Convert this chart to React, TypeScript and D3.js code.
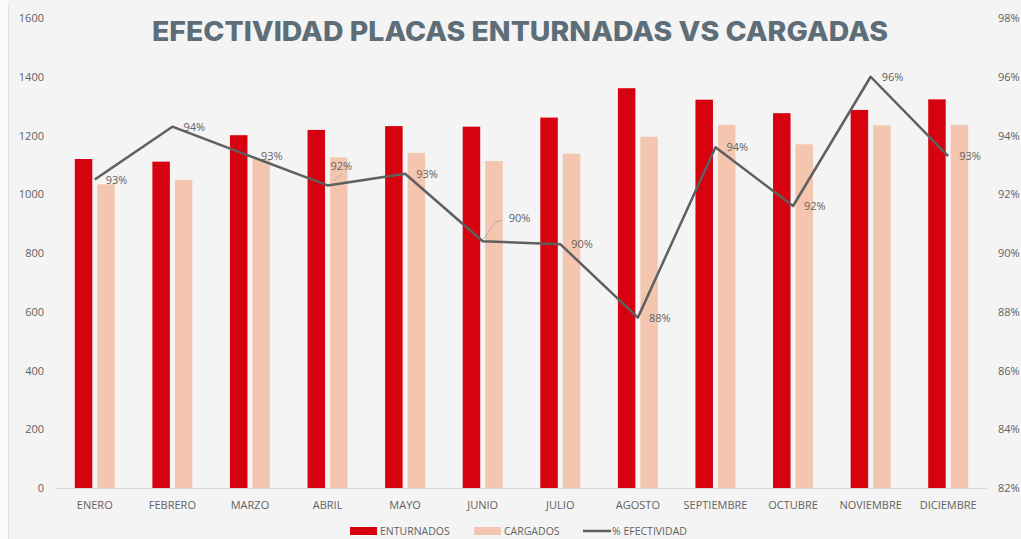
import React from "react";
import * as d3 from "d3";

const months = ["ENERO", "FEBRERO", "MARZO", "ABRIL", "MAYO", "JUNIO", "JULIO", "AGOSTO", "SEPTIEMBRE", "OCTUBRE", "NOVIEMBRE", "DICIEMBRE"];
const enturnados = [1120, 1111, 1201, 1219, 1232, 1230, 1261, 1361, 1322, 1276, 1287, 1323];
const cargados = [1034, 1049, 1119, 1125, 1141, 1113, 1138, 1196, 1236, 1170, 1235, 1236];
const efectividad = [0.925, 0.943, 0.933, 0.923, 0.927, 0.904, 0.903, 0.878, 0.936, 0.916, 0.960, 0.933];
const leftTicks = [0, 200, 400, 600, 800, 1000, 1200, 1400, 1600];
const rightTicks = [0.82, 0.84, 0.86, 0.88, 0.90, 0.92, 0.94, 0.96, 0.98];

const W = 1021, H = 539;
const RED = "#d60210";
const SALMON = "#f4c6b0";
const LINE = "#5f5f5f";
const TXT = "#626262";
const FONT = "'Open Sans', 'DejaVu Sans', sans-serif";

export default function App() {
  const x = d3.scaleBand<string>().domain(months).range([56, 987]).padding(0);
  const y = d3.scaleLinear().domain([0, 1600]).range([488, 18]);
  const y2 = d3.scaleLinear().domain([0.82, 0.98]).range([488, 18]);
  const cx = (m: string) => (x(m) as number) + x.bandwidth() / 2;
  const lineGen = d3.line<number>().x((_, i) => cx(months[i])).y((d) => y2(d));
  const pct = d3.format(".0%");

  return (
    <svg width={W} height={H} style={{ position: "absolute", left: 0, top: 0, display: "block" }} fontFamily={FONT}>
      <rect x={0} y={0} width={W} height={H} fill="#f4f4f4" />
      <rect x={0} y={0} width={8} height={H} fill="#fbfbfb" />
      <line x1={8.5} x2={8.5} y1={6} y2={H} stroke="#dedede" strokeWidth={1} />
      <text x={520} y={41} textAnchor="middle" fontFamily="Inter, 'Open Sans', sans-serif" fontWeight={800} fontSize={27} fill="#5d6e78" textLength={736} lengthAdjust="spacingAndGlyphs">
        EFECTIVIDAD PLACAS ENTURNADAS VS CARGADAS
      </text>

      {leftTicks.map((t) => (
        <text key={"l" + t} x={44} y={y(t) + 4} textAnchor="end" fontSize={11} fill={TXT}>{t}</text>
      ))}
      {rightTicks.map((t) => (
        <text key={"r" + t} x={998} y={y2(t) + 4} textAnchor="start" fontSize={11} fill={TXT}>{pct(t)}</text>
      ))}

      {months.map((m, i) => (
        <g key={m}>
          <rect x={cx(m) - 20} y={y(enturnados[i])} width={17.5} height={y(0) - y(enturnados[i])} fill={RED} />
          <rect x={cx(m) + 2.5} y={y(cargados[i])} width={17.5} height={y(0) - y(cargados[i])} fill={SALMON} />
          <text x={cx(m)} y={509} textAnchor="middle" fontSize={11} fill={TXT}>{m}</text>
        </g>
      ))}

      <line x1={56} x2={987} y1={488.5} y2={488.5} stroke="#d9d9d9" strokeWidth={1} />

      <path d={lineGen(efectividad) || ""} fill="none" stroke={LINE} strokeWidth={2.5} strokeLinejoin="round" />

      {months.map((m, i) => {
        const px = cx(m), py = y2(efectividad[i]);
        let lx = px + 11, ly = py + 4;
        let leader: string | null = null;
        if (m === "ABRIL") { lx = px + 3; ly = py - 15; leader = `M${px + 6},${py - 5}L${px + 15},${py - 12}`; }
        if (m === "JUNIO") { lx = px + 26; ly = py - 19; leader = `M${px + 1},${py - 2}L${px + 12},${py - 19}L${px + 20},${py - 21}`; }
        return (
          <g key={"lab" + m}>
            {leader && <path d={leader} fill="none" stroke="#a6a6a6" strokeWidth={0.8} />}
            <text x={lx} y={ly} fontSize={11} fill={TXT}>{pct(efectividad[i])}</text>
          </g>
        );
      })}

      <g fontSize={10.5} fill={TXT}>
        <rect x={350} y={527} width={27} height={8} fill={RED} />
        <text x={380} y={535}>ENTURNADOS</text>
        <rect x={474} y={527} width={27} height={8} fill={SALMON} />
        <text x={504} y={535}>CARGADOS</text>
        <line x1={583} x2={611} y1={531} y2={531} stroke={LINE} strokeWidth={2.5} />
        <text x={612} y={535}>% EFECTIVIDAD</text>
      </g>
    </svg>
  );
}
